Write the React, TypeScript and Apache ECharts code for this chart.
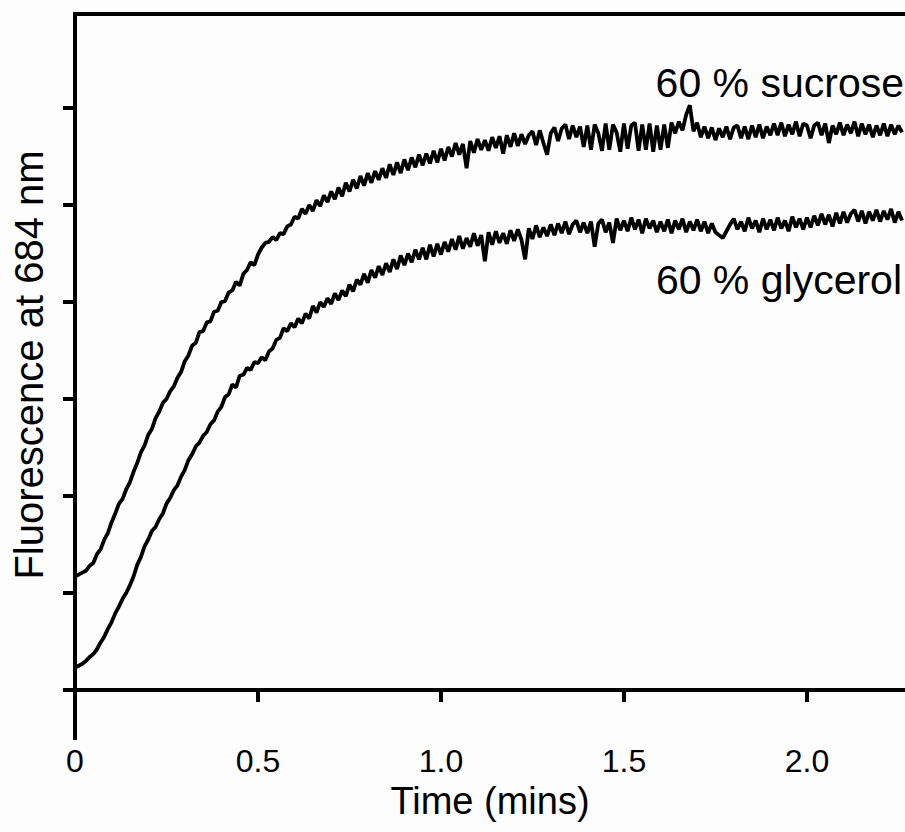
import React, { useEffect, useRef } from "react";
import * as echarts from "echarts";

// Sampling interval of the recorded traces (minutes)
const TIME_STEP_MIN = 0.01;

// Fluorescence at 684 nm (arbitrary units), 60 % sucrose, t = 0.00 ... 2.26 min
const sucrose = [
  1.17, 1.19, 1.21, 1.23, 1.28, 1.31, 1.40, 1.45, 1.55, 1.62,
  1.73, 1.82, 1.92, 1.97, 2.07, 2.14, 2.25, 2.34, 2.45, 2.52,
  2.63, 2.69, 2.80, 2.87, 2.96, 3.00, 3.08, 3.13, 3.22, 3.28,
  3.39, 3.45, 3.55, 3.58, 3.69, 3.70, 3.79, 3.80, 3.90, 3.91,
  4.00, 4.01, 4.10, 4.12, 4.21, 4.17, 4.29, 4.33, 4.41, 4.38,
  4.49, 4.56, 4.61, 4.62, 4.67, 4.64, 4.71, 4.70, 4.78, 4.80,
  4.88, 4.86, 4.96, 4.91, 5.00, 4.94, 5.05, 4.99, 5.10, 5.03,
  5.14, 5.06, 5.18, 5.09, 5.23, 5.14, 5.26, 5.17, 5.30, 5.20,
  5.33, 5.23, 5.35, 5.26, 5.38, 5.28, 5.42, 5.31, 5.44, 5.33,
  5.47, 5.36, 5.49, 5.39, 5.52, 5.41, 5.53, 5.43, 5.56, 5.44,
  5.58, 5.46, 5.60, 5.50, 5.64, 5.52, 5.63, 5.38, 5.66, 5.54,
  5.68, 5.57, 5.67, 5.56, 5.70, 5.59, 5.71, 5.53, 5.72, 5.60,
  5.74, 5.61, 5.73, 5.63, 5.72, 5.76, 5.62, 5.77, 5.64, 5.52,
  5.74, 5.80, 5.66, 5.79, 5.83, 5.68, 5.82, 5.70, 5.81, 5.60,
  5.82, 5.57, 5.83, 5.74, 5.56, 5.84, 5.57, 5.83, 5.75, 5.55,
  5.84, 5.58, 5.82, 5.85, 5.56, 5.83, 5.57, 5.84, 5.55, 5.82,
  5.57, 5.83, 5.59, 5.85, 5.74, 5.86, 5.77, 5.93, 6.03, 5.76,
  5.85, 5.70, 5.81, 5.69, 5.80, 5.67, 5.79, 5.70, 5.81, 5.68,
  5.80, 5.82, 5.69, 5.81, 5.68, 5.82, 5.70, 5.83, 5.69, 5.81,
  5.72, 5.84, 5.72, 5.85, 5.71, 5.83, 5.73, 5.86, 5.71, 5.84,
  5.82, 5.69, 5.82, 5.85, 5.72, 5.84, 5.64, 5.82, 5.73, 5.85,
  5.72, 5.83, 5.74, 5.86, 5.71, 5.84, 5.73, 5.83, 5.70, 5.82,
  5.72, 5.84, 5.71, 5.83, 5.73, 5.82, 5.75,
];

// Fluorescence at 684 nm (arbitrary units), 60 % glycerol, t = 0.00 ... 2.26 min
const glycerol = [
  0.23, 0.25, 0.27, 0.30, 0.34, 0.37, 0.42, 0.49, 0.55, 0.63,
  0.70, 0.79, 0.86, 0.94, 1.00, 1.08, 1.17, 1.29, 1.37, 1.48,
  1.55, 1.64, 1.68, 1.76, 1.82, 1.92, 1.98, 2.06, 2.11, 2.20,
  2.27, 2.37, 2.43, 2.51, 2.55, 2.62, 2.66, 2.74, 2.78, 2.87,
  2.92, 3.02, 3.05, 3.15, 3.12, 3.24, 3.25, 3.32, 3.30, 3.38,
  3.37, 3.43, 3.40, 3.49, 3.52, 3.61, 3.63, 3.73, 3.70, 3.78,
  3.74, 3.83, 3.78, 3.88, 3.83, 3.96, 3.89, 4.00, 3.95, 4.04,
  3.98, 4.09, 4.02, 4.12, 4.06, 4.18, 4.11, 4.23, 4.18, 4.29,
  4.20, 4.33, 4.25, 4.37, 4.28, 4.40, 4.31, 4.44, 4.34, 4.48,
  4.38, 4.50, 4.41, 4.54, 4.44, 4.56, 4.44, 4.59, 4.47, 4.60,
  4.49, 4.62, 4.52, 4.65, 4.54, 4.68, 4.55, 4.66, 4.57, 4.71,
  4.58, 4.69, 4.42, 4.72, 4.59, 4.73, 4.61, 4.71, 4.60, 4.74,
  4.63, 4.75, 4.64, 4.44, 4.76, 4.65, 4.79, 4.67, 4.77, 4.68,
  4.80, 4.69, 4.81, 4.71, 4.83, 4.70, 4.80, 4.84, 4.72, 4.82,
  4.71, 4.83, 4.57, 4.81, 4.85, 4.72, 4.82, 4.61, 4.86, 4.74,
  4.84, 4.73, 4.87, 4.75, 4.85, 4.71, 4.86, 4.76, 4.84, 4.72,
  4.83, 4.73, 4.85, 4.71, 4.84, 4.75, 4.86, 4.72, 4.83, 4.74,
  4.85, 4.73, 4.83, 4.71, 4.81, 4.72, 4.69, 4.66, 4.73, 4.80,
  4.86, 4.75, 4.83, 4.73, 4.87, 4.76, 4.84, 4.72, 4.86, 4.75,
  4.85, 4.74, 4.87, 4.76, 4.84, 4.73, 4.88, 4.77, 4.86, 4.75,
  4.87, 4.77, 4.89, 4.79, 4.91, 4.80, 4.90, 4.78, 4.92, 4.81,
  4.93, 4.82, 4.91, 4.95, 4.83, 4.94, 4.81, 4.93, 4.84, 4.95,
  4.83, 4.94, 4.85, 4.96, 4.82, 4.93, 4.84,
];

const xTickValues = [0, 0.5, 1.0, 1.5, 2.0];
const yTickValues = [0, 1, 2, 3, 4, 5, 6];
const X_MIN = 0;
const X_MAX = 2.268;
const Y_MIN = -0.495;
const Y_MAX = 6.97;

const seriesLabels = ["60 % sucrose", "60 % glycerol"];
const xAxisTitle = "Time (mins)";
const yAxisTitle = "Fluorescence at 684 nm";

const FONT = "'Liberation Sans', Arial, Helvetica, sans-serif";

const toPairs = (vals: number[]) =>
  vals.map((v, i) => [Number((i * TIME_STEP_MIN).toFixed(2)), v]);

export default function App() {
  const ref = useRef<HTMLDivElement>(null);

  useEffect(() => {
    if (!ref.current) return;
    const chart = echarts.init(ref.current, null, { renderer: "svg" });
    const axisLineStyle = { color: "#000", width: 4, cap: "square" as const };
    chart.setOption({
      animation: false,
      backgroundColor: "#fdfdfd",
      grid: {
        left: 75,
        right: 0,
        top: 14,
        bottom: 94,
        containLabel: false,
        outerBoundsMode: "none",
      },
      xAxis: [
        {
          type: "value",
          min: X_MIN,
          max: X_MAX,
          position: "bottom",
          axisLine: { show: true, lineStyle: axisLineStyle },
          axisTick: {
            show: true,
            inside: false,
            length: 12,
            lineStyle: { color: "#000", width: 4 },
            customValues: xTickValues,
          },
          axisLabel: {
            show: true,
            customValues: xTickValues,
            formatter: (v: number) => (v === 0 ? "0" : v.toFixed(1)),
            color: "#000",
            fontFamily: FONT,
            fontSize: 32,
            margin: 7,
          },
          splitLine: { show: false },
          name: xAxisTitle,
          nameLocation: "middle",
          nameGap: 42,
          nameTextStyle: { color: "#000", fontFamily: FONT, fontSize: 38 },
        },
        {
          type: "value",
          min: X_MIN,
          max: X_MAX,
          position: "top",
          axisLine: { show: true, lineStyle: axisLineStyle },
          axisTick: { show: false },
          axisLabel: { show: false },
          splitLine: { show: false },
        },
      ],
      yAxis: {
        type: "value",
        min: Y_MIN,
        max: Y_MAX,
        axisLine: { show: true, lineStyle: axisLineStyle },
        axisTick: {
          show: true,
          inside: false,
          length: 12,
          lineStyle: { color: "#000", width: 4 },
          customValues: yTickValues,
        },
        axisLabel: { show: false },
        splitLine: { show: false },
      },
      graphic: [
        {
          type: "text",
          x: 29,
          y: 365,
          rotation: Math.PI / 2,
          style: {
            text: yAxisTitle,
            fill: "#000",
            font: `40px ${FONT}`,
            textAlign: "center",
            textVerticalAlign: "middle",
          },
        },
        {
          type: "text",
          x: 904,
          y: 83,
          style: {
            text: seriesLabels[0],
            fill: "#000",
            font: `41px ${FONT}`,
            textAlign: "right",
            textVerticalAlign: "middle",
          },
        },
        {
          type: "text",
          x: 902,
          y: 280,
          style: {
            text: seriesLabels[1],
            fill: "#000",
            font: `41px ${FONT}`,
            textAlign: "right",
            textVerticalAlign: "middle",
          },
        },
      ],
      series: [
        {
          name: seriesLabels[0],
          type: "line",
          xAxisIndex: 0,
          data: toPairs(sucrose),
          showSymbol: false,
          lineStyle: { color: "#000", width: 3.8 },
          z: 3,
        },
        {
          name: seriesLabels[1],
          type: "line",
          xAxisIndex: 0,
          data: toPairs(glycerol),
          showSymbol: false,
          lineStyle: { color: "#000", width: 3.8 },
          z: 3,
        },
      ],
    });
    return () => chart.dispose();
  }, []);

  return (
    <div
      ref={ref}
      style={{ position: "fixed", left: 0, top: 0, width: 905, height: 832 }}
    />
  );
}
